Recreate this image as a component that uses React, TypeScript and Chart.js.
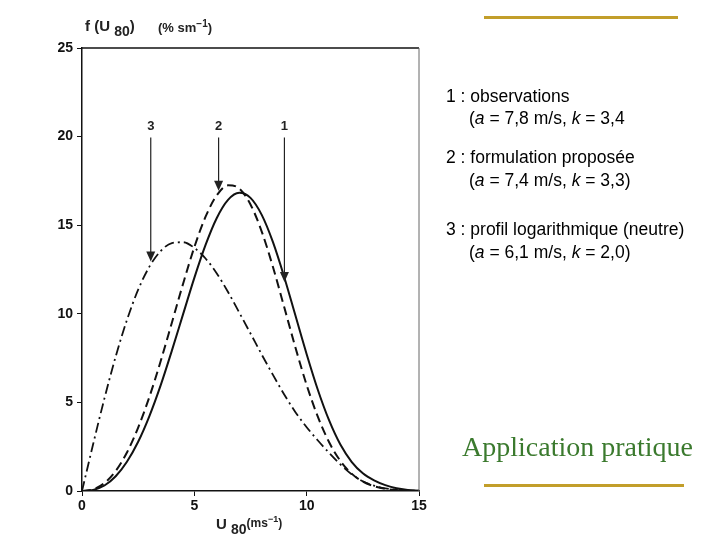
import React, { useEffect, useRef } from "react";
import { Chart, registerables } from "chart.js";

Chart.register(...registerables);

// wind speed U80 (m/s)
const speeds = [0, 0.5, 1, 1.5, 2, 2.5, 3, 3.5, 4, 4.5, 5, 5.5, 6, 6.5, 7, 7.5, 8, 8.5, 9, 9.5, 10, 10.5, 11, 11.5, 12, 12.5, 13, 13.5, 14, 14.5, 15];
// 1 : observations (solid)
const observations = [0, 0.06, 0.31, 0.83, 1.65, 2.78, 4.23, 5.96, 7.92, 9.98, 12.03, 13.89, 15.41, 16.43, 16.83, 16.54, 15.58, 14.04, 12.08, 9.9, 7.72, 5.7, 3.98, 2.62, 1.65, 1.0, 0.6, 0.33, 0.15, 0.06, 0.02];
// 2 : formulation proposée (dashed)
const proposed = [0, 0.09, 0.45, 1.13, 2.17, 3.58, 5.31, 7.32, 9.5, 11.7, 13.76, 15.48, 16.69, 17.25, 17.07, 16.17, 14.64, 12.64, 10.38, 8.1, 5.98, 4.18, 2.75, 1.7, 0.98, 0.53, 0.27, 0.12, 0.05, 0.02, 0.01];
// 3 : profil logarithmique (dash-dot)
const logProfile = [0, 2.67, 5.23, 7.59, 9.65, 11.36, 12.66, 13.54, 13.99, 14.04, 13.72, 13.12, 12.28, 11.23, 10.07, 8.89, 7.7, 6.55, 5.45, 4.45, 3.6, 2.85, 2.15, 1.5, 0.95, 0.55, 0.3, 0.15, 0.07, 0.03, 0.01];

const xTicks = [0, 5, 10, 15];
const yTicks = [0, 5, 10, 15, 20, 25];

// arrows: label, x position, tip value
const arrowLabels = ["1", "2", "3"];
const arrowX = [9.01, 6.08, 3.06];
const arrowTip = [11.8, 16.95, 12.95];
const arrowTop = 19.95;
const arrowLabelY = 20.6;

const toPts = (ys: number[]) => speeds.map((x, i) => ({ x, y: ys[i] }));

const framePlugin = {
  id: "frameAndArrows",
  afterDatasetsDraw(chart: any) {
    const { ctx, chartArea, scales } = chart;
    const xs = scales.x;
    const ys = scales.y;
    ctx.save();
    // top and right frame
    ctx.strokeStyle = "#111";
    ctx.lineWidth = 1.5;
    ctx.beginPath();
    ctx.moveTo(chartArea.left, chartArea.top);
    ctx.lineTo(chartArea.right, chartArea.top);
    ctx.stroke();
    ctx.strokeStyle = "#666";
    ctx.lineWidth = 1;
    ctx.beginPath();
    ctx.moveTo(chartArea.right, chartArea.top);
    ctx.lineTo(chartArea.right, chartArea.bottom);
    ctx.stroke();
    // arrows
    ctx.strokeStyle = "#222";
    ctx.fillStyle = "#222";
    ctx.lineWidth = 1.2;
    ctx.font = "bold 13px 'Liberation Sans', Arial, sans-serif";
    ctx.textAlign = "center";
    ctx.textBaseline = "middle";
    arrowLabels.forEach((lab, i) => {
      const px = xs.getPixelForValue(arrowX[i]);
      const top = ys.getPixelForValue(arrowTop);
      const tip = ys.getPixelForValue(arrowTip[i]);
      ctx.beginPath();
      ctx.moveTo(px, top);
      ctx.lineTo(px, tip - 8);
      ctx.stroke();
      ctx.beginPath();
      ctx.moveTo(px - 4.5, tip - 10);
      ctx.lineTo(px + 4.5, tip - 10);
      ctx.lineTo(px, tip);
      ctx.closePath();
      ctx.fill();
      ctx.fillText(lab, px, ys.getPixelForValue(arrowLabelY));
    });
    ctx.restore();
  },
};

export default function App() {
  const ref = useRef<HTMLCanvasElement | null>(null);
  useEffect(() => {
    if (!ref.current) return;
    const tickFont = { family: "'Liberation Sans', Arial, sans-serif", size: 14, weight: "bold" as const };
    const chart = new Chart(ref.current, {
      type: "line",
      data: {
        datasets: [
          { label: "1", data: toPts(observations), borderColor: "#111", borderWidth: 2, pointRadius: 0, cubicInterpolationMode: "monotone", fill: false },
          { label: "2", data: toPts(proposed), borderColor: "#111", borderWidth: 2, borderDash: [9, 5], pointRadius: 0, cubicInterpolationMode: "monotone", fill: false },
          { label: "3", data: toPts(logProfile), borderColor: "#111", borderWidth: 1.8, borderDash: [10, 4, 2, 4], pointRadius: 0, cubicInterpolationMode: "monotone", fill: false },
        ],
      },
      options: {
        animation: false,
        responsive: false,
        maintainAspectRatio: false,
        layout: { padding: { left: 0, top: 48, right: 301, bottom: 0 } },
        plugins: { legend: { display: false }, tooltip: { enabled: false } },
        scales: {
          x: {
            type: "linear",
            min: 0,
            max: 15,
            afterFit: (s: any) => { s.height = 49; },
            afterBuildTicks: (s: any) => { s.ticks = xTicks.map((v) => ({ value: v })); },
            grid: { display: true, drawOnChartArea: false, drawTicks: true, tickLength: 5, color: "#111" },
            border: { display: true, color: "#111", width: 1.5 },
            ticks: { color: "#111", font: tickFont, padding: 2 },
          },
          y: {
            type: "linear",
            min: 0,
            max: 25,
            afterFit: (s: any) => { s.width = 82; },
            afterBuildTicks: (s: any) => { s.ticks = yTicks.map((v) => ({ value: v })); },
            grid: { display: true, drawOnChartArea: false, drawTicks: true, tickLength: 5, color: "#111" },
            border: { display: true, color: "#111", width: 1.5 },
            ticks: { color: "#111", font: tickFont, padding: 4 },
          },
        },
      },
      plugins: [framePlugin],
    } as any);
    return () => chart.destroy();
  }, []);

  const sans = "'Liberation Sans', Arial, sans-serif";
  const legendStyle: React.CSSProperties = { position: "absolute", fontFamily: sans, fontSize: 17.5, color: "#000", whiteSpace: "nowrap", lineHeight: "20px" };
  const axisStyle: React.CSSProperties = { position: "absolute", fontFamily: sans, fontWeight: "bold", color: "#222", whiteSpace: "nowrap" };

  return (
    <div style={{ position: "fixed", left: 0, top: 0, width: 720, height: 540, background: "#fff", overflow: "hidden" }}>
      <canvas ref={ref} width={720} height={540} style={{ position: "absolute", left: 0, top: 0, width: 720, height: 540 }} />
      {/* y axis title */}
      <div style={{ ...axisStyle, left: 85, top: 17, fontSize: 15 }}>
        f (U <span style={{ fontSize: 14, position: "relative", top: 5 }}>80</span>)
      </div>
      <div style={{ ...axisStyle, left: 158, top: 18, fontSize: 13 }}>
        (% sm<sup style={{ fontSize: 10 }}>−1</sup>)
      </div>
      {/* x axis title */}
      <div style={{ ...axisStyle, left: 216, top: 515, fontSize: 15 }}>
        U <span style={{ fontSize: 14, position: "relative", top: 5 }}>80</span>
        <span style={{ fontSize: 12, position: "relative", top: -2 }}>(ms<sup style={{ fontSize: 9 }}>−1</sup>)</span>
      </div>
      {/* legend text */}
      <div style={{ ...legendStyle, left: 446, top: 86 }}>1 : observations</div>
      <div style={{ ...legendStyle, left: 469, top: 108 }}>(<i>a</i> = 7,8 m/s, <i>k</i> = 3,4</div>
      <div style={{ ...legendStyle, left: 446, top: 147 }}>2 : formulation proposée</div>
      <div style={{ ...legendStyle, left: 469, top: 170 }}>(<i>a</i> = 7,4 m/s, <i>k</i> = 3,3)</div>
      <div style={{ ...legendStyle, left: 446, top: 219 }}>3 : profil logarithmique (neutre)</div>
      <div style={{ ...legendStyle, left: 469, top: 242 }}>(<i>a</i> = 6,1 m/s, <i>k</i> = 2,0)</div>
      {/* title box */}
      <div style={{ position: "absolute", left: 462, top: 431, fontFamily: "'Liberation Serif', 'Times New Roman', serif", fontSize: 28, color: "#3b7a2e", whiteSpace: "nowrap" }}>
        Application pratique
      </div>
      <div style={{ position: "absolute", left: 484, top: 16, width: 194, height: 3, background: "#c29e2a" }} />
      <div style={{ position: "absolute", left: 484, top: 484, width: 200, height: 3, background: "#c29e2a" }} />
    </div>
  );
}
